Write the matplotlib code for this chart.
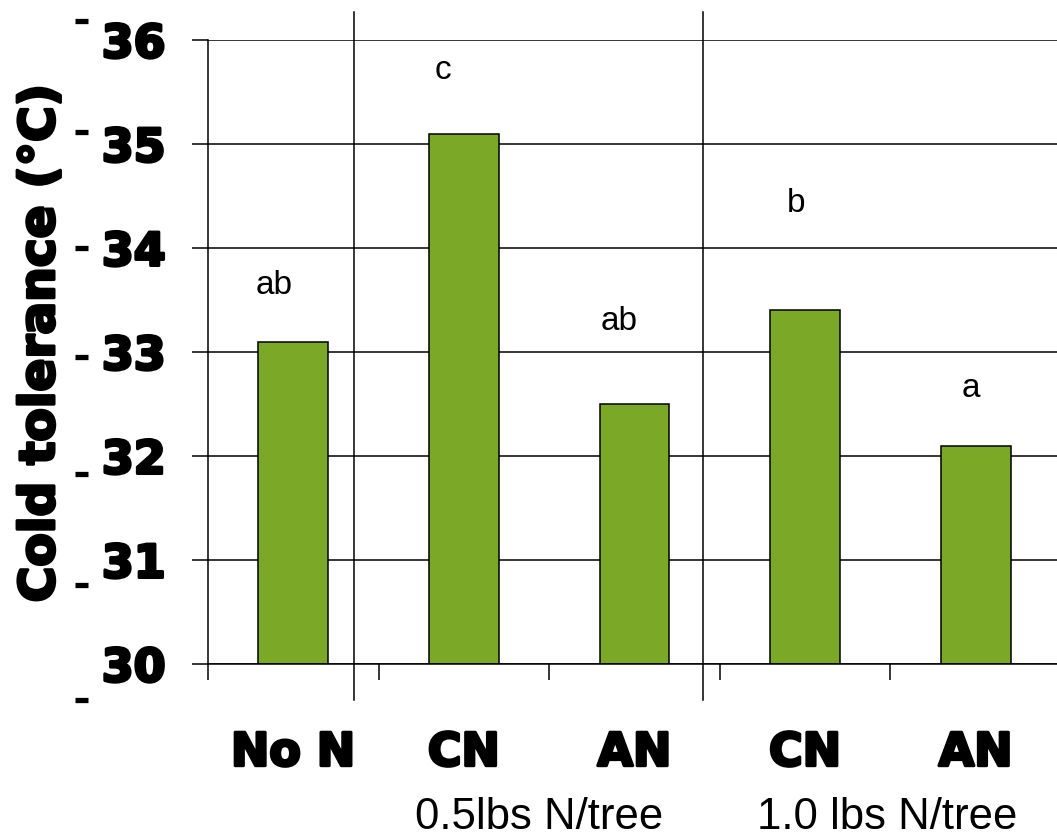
import numpy as np
import matplotlib.pyplot as plt
import matplotlib.transforms as mtransforms
import matplotlib.patheffects as pe
from matplotlib.ticker import FixedLocator, FuncFormatter

# ── Data: cold tolerance (°C) per nitrogen treatment ─────────────────────────
treatments = ["No N", "CN", "AN", "CN", "AN"]
cold_tol   = [-33.1, -35.1, -32.5, -33.4, -32.1]

# Mean-separation letters and where they sit (category units, °C)
letters  = ["ab", "c", "ab", "b", "a"]
letter_x = [-0.11, 0.88, 1.91, 2.95, 3.97]
letter_y = [-33.64, -35.71, -33.29, -34.43, -32.65]

# Nitrogen rate groups under the treatment names
groups   = ["0.5lbs N/tree", "1.0 lbs N/tree"]
group_x  = [1.44, 3.48]
divider_x = [0.356, 2.40]

y_ticks = [-36, -35, -34, -33, -32, -31, -30]
# vertical drift (pixels, downward) of the detached minus signs on the y labels
minus_shift = [-19, -12, 0, 5, 18, 25, 36]

BAR_GREEN = "#7CA828"
# heavier look for the bold labels
HEAVY = [pe.withStroke(linewidth=2.2, foreground="black")]

# ── Figure ───────────────────────────────────────────────────────────────────
fig = plt.figure(figsize=(10.57, 8.4), dpi=100)
ax = fig.add_axes([208 / 1057, 1 - 664 / 840, 853 / 1057, 624 / 840])

x = np.arange(len(treatments))
base = -30
ax.bar(x, np.array(cold_tol) - base, bottom=base, width=0.41,
       color=BAR_GREEN, edgecolor="black", linewidth=1.1, zorder=3)

ax.set_xlim(-0.5, 4.5)
ax.set_ylim(-30, -36)

# horizontal grid
ax.yaxis.set_major_locator(FixedLocator(y_ticks))
ax.yaxis.set_major_formatter(FuncFormatter(lambda v, p: f"{abs(v):.0f}"))
ax.grid(axis="y", color="black", lw=1.1, zorder=1)
ax.grid(axis="x", visible=False)

for side in ("top", "right"):
    ax.spines[side].set_visible(False)
for side in ("left", "bottom"):
    ax.spines[side].set_linewidth(1.1)
    ax.spines[side].set_zorder(4)

ax.tick_params(axis="y", direction="out", length=11.5, width=1.1, pad=19,
               labelsize=33)
for lab in ax.get_yticklabels():
    lab.set_fontweight("bold")
    lab.set_path_effects(HEAVY)

# x: tick marks between categories, names under each bar
ax.xaxis.set_major_locator(FixedLocator(np.arange(-0.5, 5.0, 1.0)))
ax.xaxis.set_major_formatter(FuncFormatter(lambda v, p: ""))
ax.xaxis.set_minor_locator(FixedLocator(x))
ax.set_xticklabels(treatments, minor=True)
ax.tick_params(axis="x", which="major", direction="out", length=11.5, width=1.1)
ax.tick_params(axis="x", which="minor", length=0, pad=48, labelsize=33)
for lab in ax.get_xticklabels(minor=True):
    lab.set_fontweight("bold")
    lab.set_path_effects(HEAVY)

# detached minus signs left of the y tick numbers
ytrans = mtransforms.blended_transform_factory(ax.transAxes, ax.transData)
for v, dy in zip(y_ticks, minus_shift):
    t = mtransforms.offset_copy(ytrans, fig=fig, x=0, y=-dy, units="dots")
    ax.plot([-0.156, -0.141], [v, v], transform=t, color="black", lw=3.8,
            solid_capstyle="butt", clip_on=False)

# group dividers reaching above and below the plot
for xd in divider_x:
    ax.plot([xd, xd], [-36.27, -29.65], color="black", lw=1.1,
            clip_on=False, zorder=5)

# letters
for lx, ly, s in zip(letter_x, letter_y, letters):
    ax.text(lx, ly, s, ha="center", va="center", fontsize=24,
            family="Liberation Sans")

# nitrogen rate group labels
xtrans = mtransforms.blended_transform_factory(ax.transData, ax.transAxes)
for gx, g in zip(group_x, groups):
    ax.text(gx, (664 - 829) / 624, g, transform=xtrans, ha="center",
            va="baseline", fontsize=31.5, family="Liberation Sans")

fig.text(40 / 1057, 1 - 343 / 840, "Cold tolerance (°C)", rotation=90,
         ha="center", va="center", fontsize=35, fontweight="bold",
         path_effects=HEAVY)

fig.savefig("out.png", dpi=100)
